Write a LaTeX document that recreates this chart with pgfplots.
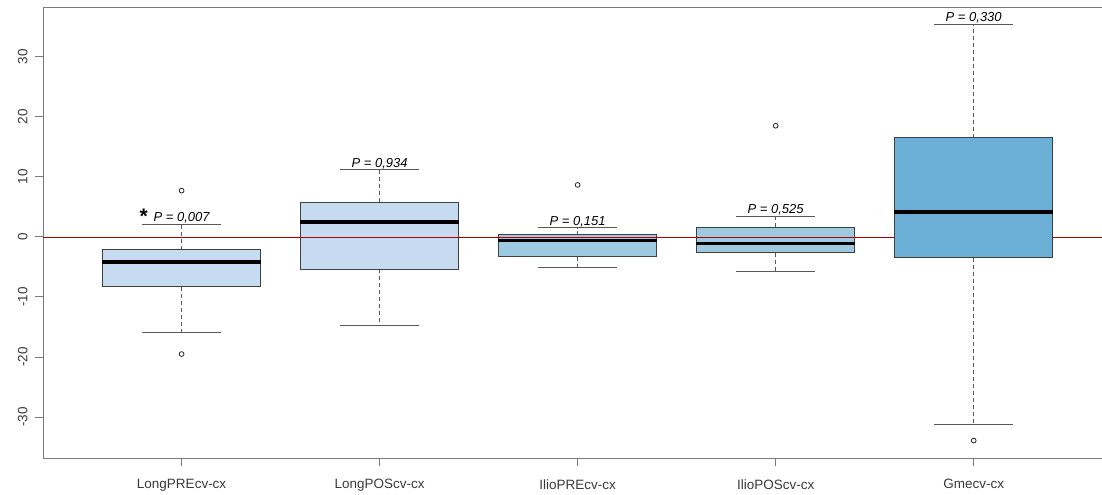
\documentclass[border=0pt]{standalone}
\usepackage{pgfplots}
\pgfplotsset{compat=1.18}
\usepgfplotslibrary{statistics}
\usepackage{fontspec}
\setmainfont{Liberation Sans}
\definecolor{b1}{HTML}{C6DBEF}
\definecolor{b3}{HTML}{9ECAE1}
\definecolor{b5}{HTML}{6BAED6}
\definecolor{axgray}{HTML}{7A7A7A}
\definecolor{txt}{HTML}{3A3A3A}
\begin{document}
\begin{tikzpicture}
\begin{axis}[name=ax, scale only axis, width=1059pt, height=450pt,
  xmin=0.30, xmax=5.648, ymin=-36.8, ymax=38.1,
  axis x line*=box, axis y line*=left,
  every outer y axis line/.append style={-},
  every outer x axis line/.append style={-},
  axis line style={draw=axgray, line width=1pt, -},
  xtick={1,2,3,4,5},
  xticklabels={LongPREcv-cx,LongPOScv-cx,IlioPREcv-cx,IlioPOScv-cx,Gmecv-cx},
  ytick={-30,-20,-10,0,10,20,30},
  /pgf/number format/assume math mode=true,
  xtick pos=bottom, ytick pos=left,
  tick align=outside, major tick length=8pt,
  major tick style={draw=axgray, line width=1pt},
  ticklabel style={font=\fontsize{13.5}{15}\selectfont, text=txt},
  yticklabel style={rotate=90, anchor=south, xshift=0pt, yshift=4pt},
  xticklabel style={yshift=-10pt},
  boxplot/draw direction=y,
  boxplot/box extend=0.8,
  boxplot/whisker extend=0.4,
  boxplot/every median/.style={draw=black, line width=3.3pt},
  boxplot/every whisker/.style={draw=black!65, line width=1pt},
  boxplot/draw/lower whisker/.code={%
    \draw[/pgfplots/boxplot/every whisker/.try, dash pattern=on 4pt off 3pt]
      (boxplot cs:\pgfplotsboxplotvalue{lower quartile}) -- (boxplot cs:\pgfplotsboxplotvalue{lower whisker});
    \draw[/pgfplots/boxplot/every whisker/.try, solid]
      (boxplot whisker cs:\pgfplotsboxplotvalue{lower whisker},0) -- (boxplot whisker cs:\pgfplotsboxplotvalue{lower whisker},1);
  },
  boxplot/draw/upper whisker/.code={%
    \draw[/pgfplots/boxplot/every whisker/.try, dash pattern=on 4pt off 3pt]
      (boxplot cs:\pgfplotsboxplotvalue{upper quartile}) -- (boxplot cs:\pgfplotsboxplotvalue{upper whisker});
    \draw[/pgfplots/boxplot/every whisker/.try, solid]
      (boxplot whisker cs:\pgfplotsboxplotvalue{upper whisker},0) -- (boxplot whisker cs:\pgfplotsboxplotvalue{upper whisker},1);
  },
  every axis plot/.append style={mark=o, mark size=2.4pt, mark options={solid, draw=black!85, fill=white, line width=0.8pt}},
]
\addplot[boxplot prepared={draw position=1, lower whisker=-15.9, lower quartile=-8.27, median=-4.16, upper quartile=-2.16, upper whisker=2.1},
  fill=b1, draw=black!75, line width=1pt] table[row sep=\\, y index=0] {7.7\\ -19.5\\};
\addplot[boxplot prepared={draw position=2, lower whisker=-14.75, lower quartile=-5.4, median=2.5, upper quartile=5.77, upper whisker=11.15},
  fill=b1, draw=black!75, line width=1pt] coordinates {};
\addplot[boxplot prepared={draw position=3, lower whisker=-5.1, lower quartile=-3.3, median=-0.6, upper quartile=0.33, upper whisker=1.5},
  fill=b3, draw=black!75, line width=1pt] table[row sep=\\, y index=0] {8.65\\};
\addplot[boxplot prepared={draw position=4, lower whisker=-5.7, lower quartile=-2.6, median=-1.05, upper quartile=1.6, upper whisker=3.4},
  fill=b3, draw=black!75, line width=1pt] table[row sep=\\, y index=0] {18.5\\};
\addplot[red!70!black, line width=0.6pt, mark=none] coordinates {(0.3,0) (5.648,0)};
\addplot[boxplot prepared={draw position=5, lower whisker=-31.3, lower quartile=-3.5, median=4.16, upper quartile=16.5, upper whisker=35.4},
  fill=b5, draw=black!75, line width=1pt] table[row sep=\\, y index=0] {-33.9\\};
\node[anchor=base, font=\itshape\fontsize{13}{15}\selectfont] at (axis cs:1,2.55) {P = 0,007};
\node[anchor=base east, font=\bfseries\fontsize{21}{22}\selectfont, inner sep=0pt] at (axis cs:0.83,2.2) {*};
\node[anchor=base, font=\itshape\fontsize{13}{15}\selectfont] at (axis cs:2,11.6) {P = 0,934};
\node[anchor=base, font=\itshape\fontsize{13}{15}\selectfont] at (axis cs:3,1.95) {P = 0,151};
\node[anchor=base, font=\itshape\fontsize{13}{15}\selectfont] at (axis cs:4,3.85) {P = 0,525};
\node[anchor=base, font=\itshape\fontsize{13}{15}\selectfont] at (axis cs:5,35.85) {P = 0,330};
\end{axis}
\pgfresetboundingbox
\useasboundingbox ([shift={(-43pt,-36pt)}]ax.south west) rectangle ([shift={(0pt,8pt)}]ax.north east);
\end{tikzpicture}
\end{document}
